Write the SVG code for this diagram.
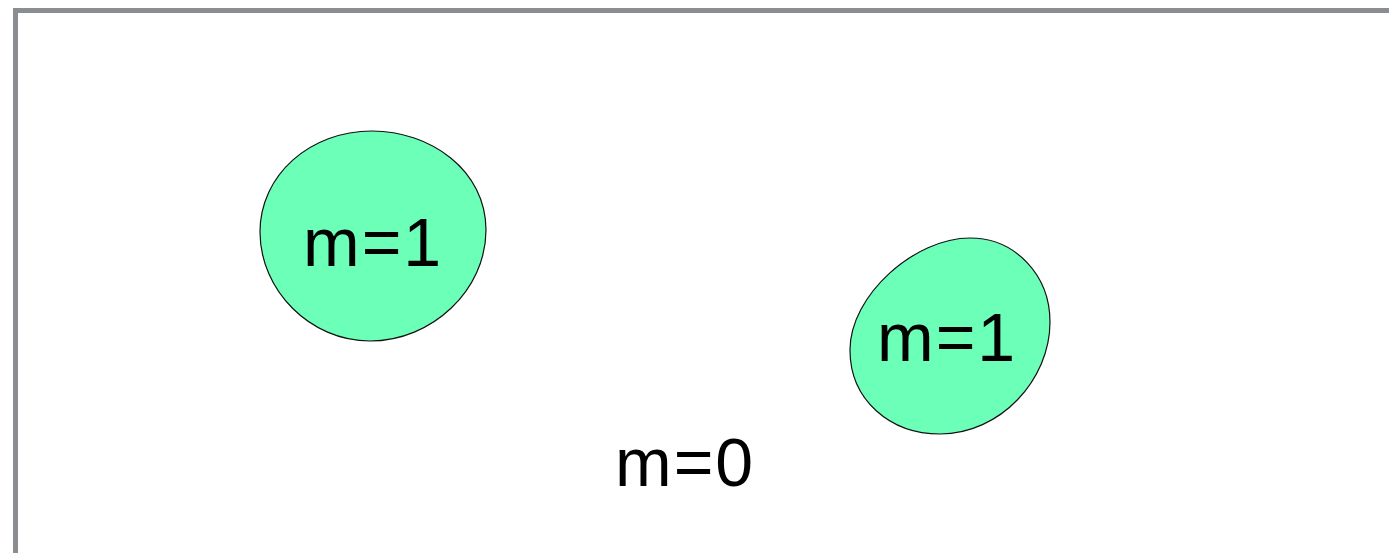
<svg xmlns="http://www.w3.org/2000/svg" width="1389" height="553" viewBox="0 0 1389 553">
<style>
.blob{fill:#6bffb8;stroke:#111;stroke-width:1.2}
.lbl{font-family:"Liberation Sans",Arial,sans-serif;font-size:68px;fill:#000;letter-spacing:2px}
</style>
<rect width="1389" height="553" fill="#fff"/>
<rect id="frame" x="15.5" y="10.5" width="1400" height="580" fill="none" stroke="#8a8d91" stroke-width="5"/>
<g id="region1">
<path class="blob" d="M 372,131 C 430,131 486,170 486,230 C 486,290 432,341 370,341 C 310,341 260,290 260,232 C 260,175 310,131 372,131 Z"/>
<text class="lbl" x="303" y="266">m=1</text>
</g>
<g id="region2">
<path class="blob" d="M 970,238 C 1015,238 1050,275 1050,322 C 1050,380 1000,434 940,434 C 890,434 850,400 850,350 C 850,295 915,238 970,238 Z"/>
<text class="lbl" x="877" y="361">m=1</text>
</g>
<g id="background-label">
<text class="lbl" x="615" y="486">m=0</text>
</g>
<g id="connectors"/>
</svg>
